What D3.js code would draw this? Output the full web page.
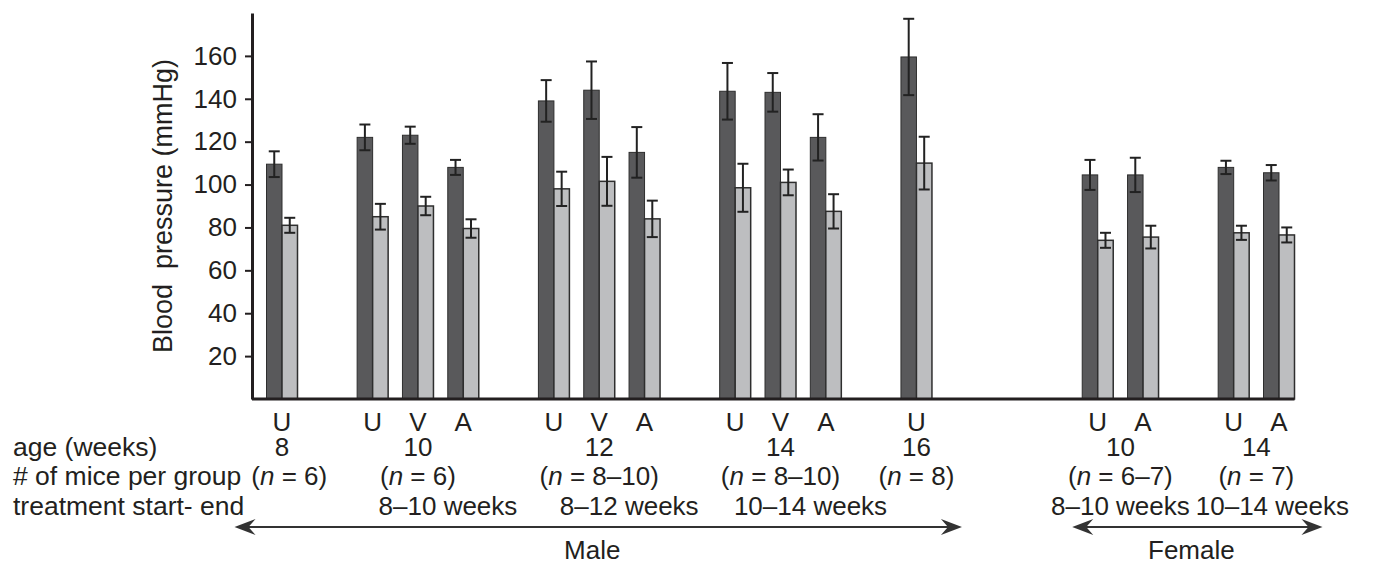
<!DOCTYPE html>
<html>
<head>
<meta charset="utf-8">
<script src="https://cdn.jsdelivr.net/npm/d3@7"></script>
<style>
  body { margin: 0; background: #fff; }
  text { font-family: "Liberation Sans", Arial, sans-serif; fill: #231f20; }
</style>
</head>
<body>
<div id="chart"></div>
<script>
// groups along the x axis
var groupSex = ["Male", "Male", "Male", "Male", "Male", "Female", "Female"];
var groupAge = ["8", "10", "12", "14", "16", "10", "14"];
var groupN = ["6", "6", "8–10", "8–10", "8", "6–7", "7"];
var groupPeriod = ["", "8–10 weeks", "8–12 weeks", "10–14 weeks", "", "8–10 weeks", "10–14 weeks"];
var groupTreat = [["U"], ["U", "V", "A"], ["U", "V", "A"], ["U", "V", "A"], ["U"], ["U", "A"], ["U", "A"]];

// one value per pair of bars, in the order of the groups above
var systolic = [109.5, 122, 123, 108, 139, 144, 115, 143.5, 143, 122, 159.5, 104.5, 104.5, 108, 105.5];
var systolicErr = [6, 6, 4, 3.5, 9.7, 13.4, 11.8, 13.2, 9, 10.8, 17.8, 7, 8, 3.1, 3.6];
var diastolic = [81, 85, 90, 79.5, 98, 101.5, 84, 98.5, 101, 87.5, 110, 74, 75.5, 77.5, 76.5];
var diastolicErr = [3.5, 6, 4.3, 4.3, 8, 11.4, 8.5, 11.2, 6, 8, 12.3, 3.5, 5.3, 3.3, 3.5];

var yTicks = [20, 40, 60, 80, 100, 120, 140, 160];

var width = 1373, height = 566;

var svg = d3.select("#chart").append("svg")
  .attr("width", width)
  .attr("height", height);

// lay the pairs out on slots, one empty slot between groups, more between sexes
var pairs = [], groups = [];
var slot = 0, k = 0;
groupAge.forEach(function(age, g) {
  if (g > 0) slot += (groupSex[g] !== groupSex[g - 1]) ? 3 : 1;
  var first = slot;
  groupTreat[g].forEach(function(t) {
    pairs.push({ slot: slot, treat: t, group: g,
      sys: systolic[k], sysErr: systolicErr[k],
      dia: diastolic[k], diaErr: diastolicErr[k] });
    slot++; k++;
  });
  groups.push({ g: g, first: first, last: slot - 1 });
});
var lastSlot = slot - 1;

var x = d3.scaleLinear().domain([0, lastSlot]).range([266.5, 1263.5]);
var sub = d3.scaleBand().domain(["sys", "dia"]).range([0, 31]);
var pairW = sub.range()[1];
var y = d3.scaleLinear().domain([0, 180]).range([399, 13]);

// y axis
var yAxis = svg.append("g")
  .attr("transform", "translate(252,0)")
  .call(d3.axisLeft(y).tickValues(yTicks).tickSize(7).tickSizeOuter(0).tickPadding(8));
yAxis.select(".domain").attr("stroke", "#231f20").attr("stroke-width", 3);
yAxis.selectAll(".tick line").attr("stroke", "#231f20").attr("stroke-width", 2);
yAxis.selectAll(".tick text")
  .style("font-family", '"Liberation Sans", Arial, sans-serif')
  .style("font-size", "26px")
  .attr("fill", "#231f20");

svg.append("text")
  .attr("transform", "translate(172," + y(90) + ") rotate(-90)")
  .attr("text-anchor", "middle")
  .style("font-size", "27px")
  .style("white-space", "pre")
  .text("Blood  pressure (mmHg)");

// bars
var pairG = svg.append("g").selectAll("g")
  .data(pairs)
  .enter().append("g")
  .attr("transform", function(d) { return "translate(" + x(d.slot) + ",0)"; });

pairG.append("rect")
  .attr("x", sub("sys"))
  .attr("y", function(d) { return y(d.sys); })
  .attr("width", sub.bandwidth())
  .attr("height", function(d) { return y(0) - y(d.sys); })
  .attr("fill", "#59595b")
  .attr("stroke", "#2e2e2e")
  .attr("stroke-width", 1);

pairG.append("rect")
  .attr("x", sub("dia"))
  .attr("y", function(d) { return y(d.dia); })
  .attr("width", sub.bandwidth())
  .attr("height", function(d) { return y(0) - y(d.dia); })
  .attr("fill", "#bdbec0")
  .attr("stroke", "#2e2e2e")
  .attr("stroke-width", 1.5);

// error bars
function errBar(key, errKey) {
  var cx = sub(key) + sub.bandwidth() / 2;
  var e = pairG.append("g").attr("stroke", "#222").attr("stroke-width", 2);
  e.append("line")
    .attr("x1", cx).attr("x2", cx)
    .attr("y1", function(d) { return y(d[key] + d[errKey]); })
    .attr("y2", function(d) { return y(d[key] - d[errKey]); });
  [1, -1].forEach(function(s) {
    e.append("line")
      .attr("x1", cx - 5.5).attr("x2", cx + 5.5)
      .attr("y1", function(d) { return y(d[key] + s * d[errKey]); })
      .attr("y2", function(d) { return y(d[key] + s * d[errKey]); });
  });
}
errBar("sys", "sysErr");
errBar("dia", "diaErr");

// x baseline
svg.append("line")
  .attr("x1", 252).attr("x2", x(lastSlot) + pairW)
  .attr("y1", y(0)).attr("y2", y(0))
  .attr("stroke", "#231f20").attr("stroke-width", 3);

// treatment letters
svg.append("g").selectAll("text")
  .data(pairs)
  .enter().append("text")
  .attr("x", function(d) { return x(d.slot) + pairW / 2; })
  .attr("y", 431)
  .attr("text-anchor", "middle")
  .style("font-size", "26px")
  .text(function(d) { return d.treat; });

// row labels
var rowY = { age: 456, n: 485, period: 515 };
var rowLabels = [["age (weeks)", "age"], ["# of mice per group", "n"], ["treatment start- end", "period"]];
svg.append("g").selectAll("text")
  .data(rowLabels)
  .enter().append("text")
  .attr("class", function(d) { return "row-" + d[1]; })
  .attr("x", 13)
  .attr("y", function(d) { return rowY[d[1]]; })
  .style("font-size", "26.5px")
  .text(function(d) { return d[0]; });

function groupCenter(d) { return (x(d.first) + x(d.last) + pairW) / 2; }

svg.append("g").selectAll("text")
  .data(groups)
  .enter().append("text")
  .attr("x", groupCenter)
  .attr("y", rowY.age)
  .attr("text-anchor", "middle")
  .style("font-size", "26px")
  .text(function(d) { return groupAge[d.g]; });

var nText = svg.append("g").selectAll("text")
  .data(groups)
  .enter().append("text")
  .attr("class", "row-n")
  .attr("x", groupCenter)
  .attr("y", rowY.n)
  .attr("text-anchor", "middle")
  .style("font-size", "26px");
nText.append("tspan").text("(");
nText.append("tspan").style("font-style", "italic").text("n");
nText.append("tspan").text(function(d) { return " = " + groupN[d.g] + ")"; });

svg.append("g").selectAll("text")
  .data(groups.filter(function(d) { return groupPeriod[d.g]; }))
  .enter().append("text")
  .attr("class", "row-period")
  .attr("x", function(d) { return groupCenter(d) + (groupSex[d.g] === "Male" ? 30 : 0); })
  .attr("y", rowY.period)
  .attr("text-anchor", "middle")
  .style("font-size", "26px")
  .text(function(d) { return groupPeriod[d.g]; });

// push texts of a row to the right where they would run into the previous one
function spreadRow(cls, gap) {
  var right = -Infinity;
  svg.selectAll("." + cls).each(function() {
    var t = d3.select(this), b = this.getBBox();
    if (b.x < right + gap) {
      t.attr("x", +t.attr("x") + right + gap - b.x);
      b = this.getBBox();
    }
    right = b.x + b.width;
  });
}
spreadRow("row-n", 10);
spreadRow("row-period", 6);

// sex arrows
var sexes = ["Male", "Female"].map(function(s) {
  var gs = groups.filter(function(d) { return groupSex[d.g] === s; });
  var a = x(gs[0].first), b = x(gs[gs.length - 1].last) + pairW;
  return s === "Male" ? { name: s, x1: a - 32, x2: b + 30 } : { name: s, x1: a - 10, x2: b + 28 };
});
var arrowY = 527;
var arrows = svg.append("g").selectAll("g")
  .data(sexes)
  .enter().append("g");
arrows.append("line")
  .attr("x1", function(d) { return d.x1 + 4; })
  .attr("x2", function(d) { return d.x2 - 4; })
  .attr("y1", arrowY).attr("y2", arrowY)
  .attr("stroke", "#333").attr("stroke-width", 2);
arrows.append("path")
  .attr("d", function(d) {
    return "M" + d.x1 + "," + arrowY + "L" + (d.x1 + 21) + "," + (arrowY - 8) +
      "L" + (d.x1 + 14) + "," + arrowY + "L" + (d.x1 + 21) + "," + (arrowY + 8) + "Z";
  })
  .attr("fill", "#333");
arrows.append("path")
  .attr("d", function(d) {
    return "M" + d.x2 + "," + arrowY + "L" + (d.x2 - 21) + "," + (arrowY - 8) +
      "L" + (d.x2 - 14) + "," + arrowY + "L" + (d.x2 - 21) + "," + (arrowY + 8) + "Z";
  })
  .attr("fill", "#333");
arrows.append("text")
  .attr("x", function(d) { return (d.x1 + d.x2) / 2 - 6; })
  .attr("y", 559)
  .attr("text-anchor", "middle")
  .style("font-size", "26px")
  .text(function(d) { return d.name; });
</script>
</body>
</html>
